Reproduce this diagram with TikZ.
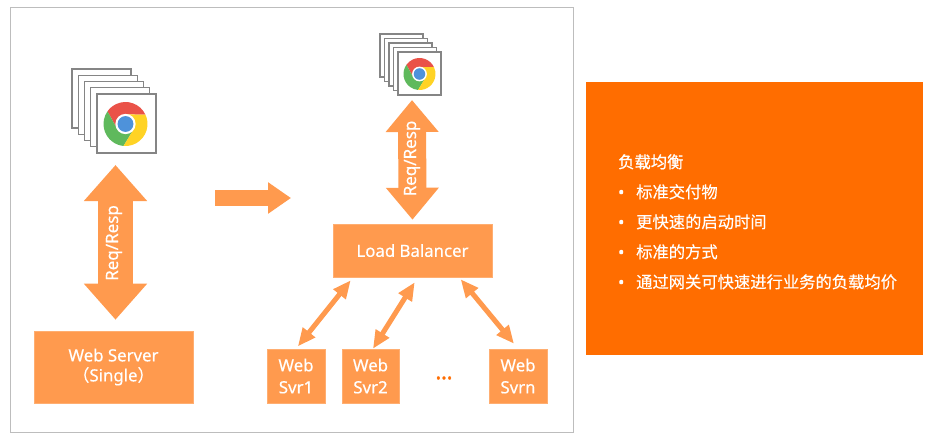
\documentclass[tikz,border=0pt]{standalone}
\usepackage{fontspec}
\setmainfont{Noto Sans}[FakeBold=0.35]
\newfontfamily\cjk{Noto Sans CJK SC}[FakeBold=0.25]
\newfontfamily\cjktitle{Noto Sans CJK SC}[FakeBold=0.8]
\newfontfamily\dotfont{Noto Sans}[FakeBold=2]
\usetikzlibrary{arrows.meta,calc}
\definecolor{boxorange}{HTML}{FF9A4E}
\definecolor{panelorange}{HTML}{FF6D00}
\definecolor{framegray}{HTML}{BDBDBD}
\definecolor{pagegray}{HTML}{858585}
\definecolor{chromered}{HTML}{EA5248}
\definecolor{chromegreen}{HTML}{5FB95C}
\definecolor{chromeyellow}{HTML}{FFD325}
\definecolor{chromeblue}{HTML}{4E92DA}
\tikzset{
  box/.style={draw=boxorange!80!white,line width=.6pt,fill=boxorange,text=white,align=center,inner sep=0pt,font=\fontsize{16.8}{22}\selectfont},
  anchorbox/.style={inner sep=0pt,outer sep=0pt},
  page/.style={draw=pagegray,line width=1.1pt,fill=white},
  bigarrow/.style={draw=boxorange,line width=#1,line cap=butt},
  bigarrow/.default=28pt,
  thinarrow/.style={draw=boxorange,line width=5pt,{Triangle[length=18pt,width=15pt]}-{Triangle[length=18pt,width=15pt]}},
  arrowlabel/.style={text=white,rotate=90,inner sep=0pt,font=\fontsize{17}{20}\selectfont},
  paneltext/.style={text=white,anchor=base west,inner sep=0pt,font=\fontsize{16.3}{20}\selectfont},
}
% #1,#2 top-left of first page, #3 page size, #4 page step, #5 logo centre x, #6 logo centre y, #7 logo radius
\newcommand{\browserstack}[7]{%
  \foreach \k in {0,...,4}{
    \draw[page] ({#1+\k*#4},{#2+\k*#4}) rectangle ++(#3,#3);
  }
  \begin{scope}[shift={(#5,#6)},x=#7pt,y=#7pt]
    \fill[white] (0,0) circle (1.04);
    \fill[chromered] (0,0) -- (90:.44) -- (25:1) arc[start angle=25,end angle=145,radius=1] -- (210:.44) -- cycle;
    \fill[chromegreen] (0,0) -- (210:.44) -- (145:1) arc[start angle=145,end angle=265,radius=1] -- (330:.44) -- cycle;
    \fill[chromeyellow] (0,0) -- (330:.44) -- (265:1) arc[start angle=265,end angle=385,radius=1] -- (90:.44) -- cycle;
    \fill[white] (0,0) circle (.46);
    \fill[chromeblue] (0,0) circle (.36);
  \end{scope}
}
\begin{document}
\begin{tikzpicture}[x=1pt,y=-1pt]
\useasboundingbox (0,0) rectangle (940,440);
\fill[white] (0,0) rectangle (940,440);
\draw[framegray,line width=.8pt] (10,7) rectangle (573,432);
\fill[panelorange] (586,82) rectangle (923,355);

\browserstack{72}{69}{59}{6.25}{125.5}{124}{22}
\browserstack{380}{34}{43}{4.5}{419.5}{74}{16}

\node[anchorbox,minimum width=61pt,minimum height=84pt] (browserL) at (115.5,111) {};
\node[anchorbox,minimum width=52pt,minimum height=62pt] (browserR) at (412,65) {};

\node[box,minimum width=159pt,minimum height=72pt] (server) at (113.5,367) {Web Server\\[-2pt]{\cjk（}Single{\cjk）}};
\node[box,minimum width=159pt,minimum height=53pt] (lb) at (412.5,250.5) {Load Balancer};
\node[box,minimum width=58pt,minimum height=54pt] (svr1) at (296,376) {Web\\Svr1};
\node[box,minimum width=57pt,minimum height=54pt] (svr2) at (370.5,376) {Web\\Svr2};
\node[box,minimum width=58pt,minimum height=54pt] (svrn) at (518,376) {Web\\Svrn};
\node[text=panelorange,inner sep=0pt,font=\dotfont\fontsize{21}{22}\selectfont] (dots) at (444,378) {...};

\draw[bigarrow=35pt,{Triangle[length=36pt,width=61pt]}-{Triangle[length=36pt,width=61pt]},shorten <=12pt,shorten >=11pt]
  (browserL.south) -- (browserL.south |- server.north);
\draw[bigarrow=28pt,{Triangle[length=32pt,width=51pt]}-{Triangle[length=32pt,width=51pt]},shorten <=4pt,shorten >=4pt]
  (browserR.south) -- (lb.north);
\node[arrowlabel] (reqL) at (114,243) {Req/Resp};
\node[arrowlabel] (reqR) at (412,158.5) {Req/Resp};

\coordinate (shiftfrom) at (215,198);
\coordinate (shiftto) at (291,198);
\draw[bigarrow=16pt,-{Triangle[length=23pt,width=30pt]}] (shiftfrom) -- (shiftto);

\draw[thinarrow,shorten <=3pt] (svr1.north) -- ($(lb.south west)+(18,3)$);
\draw[thinarrow] ($(svr2.north)+(2.5,0)$) -- ($(lb.south west)+(82,5)$);
\draw[thinarrow] ($(svrn.north)+(-4,-5)$) -- ($(lb.south west)+(128,2)$);

\node[paneltext] (title) at (618,168) {\cjktitle 负载均衡};
\node[paneltext] (item1) at (618,198) {\makebox[18pt][l]{\dotfont•}\cjk 标准交付物};
\node[paneltext] (item2) at (618,228) {\makebox[18pt][l]{\dotfont•}\cjk 更快速的启动时间};
\node[paneltext] (item3) at (618,258) {\makebox[18pt][l]{\dotfont•}\cjk 标准的方式};
\node[paneltext] (item4) at (618,288) {\makebox[18pt][l]{\dotfont•}\cjk 通过网关可快速进行业务的负载均价};
\end{tikzpicture}
\end{document}
